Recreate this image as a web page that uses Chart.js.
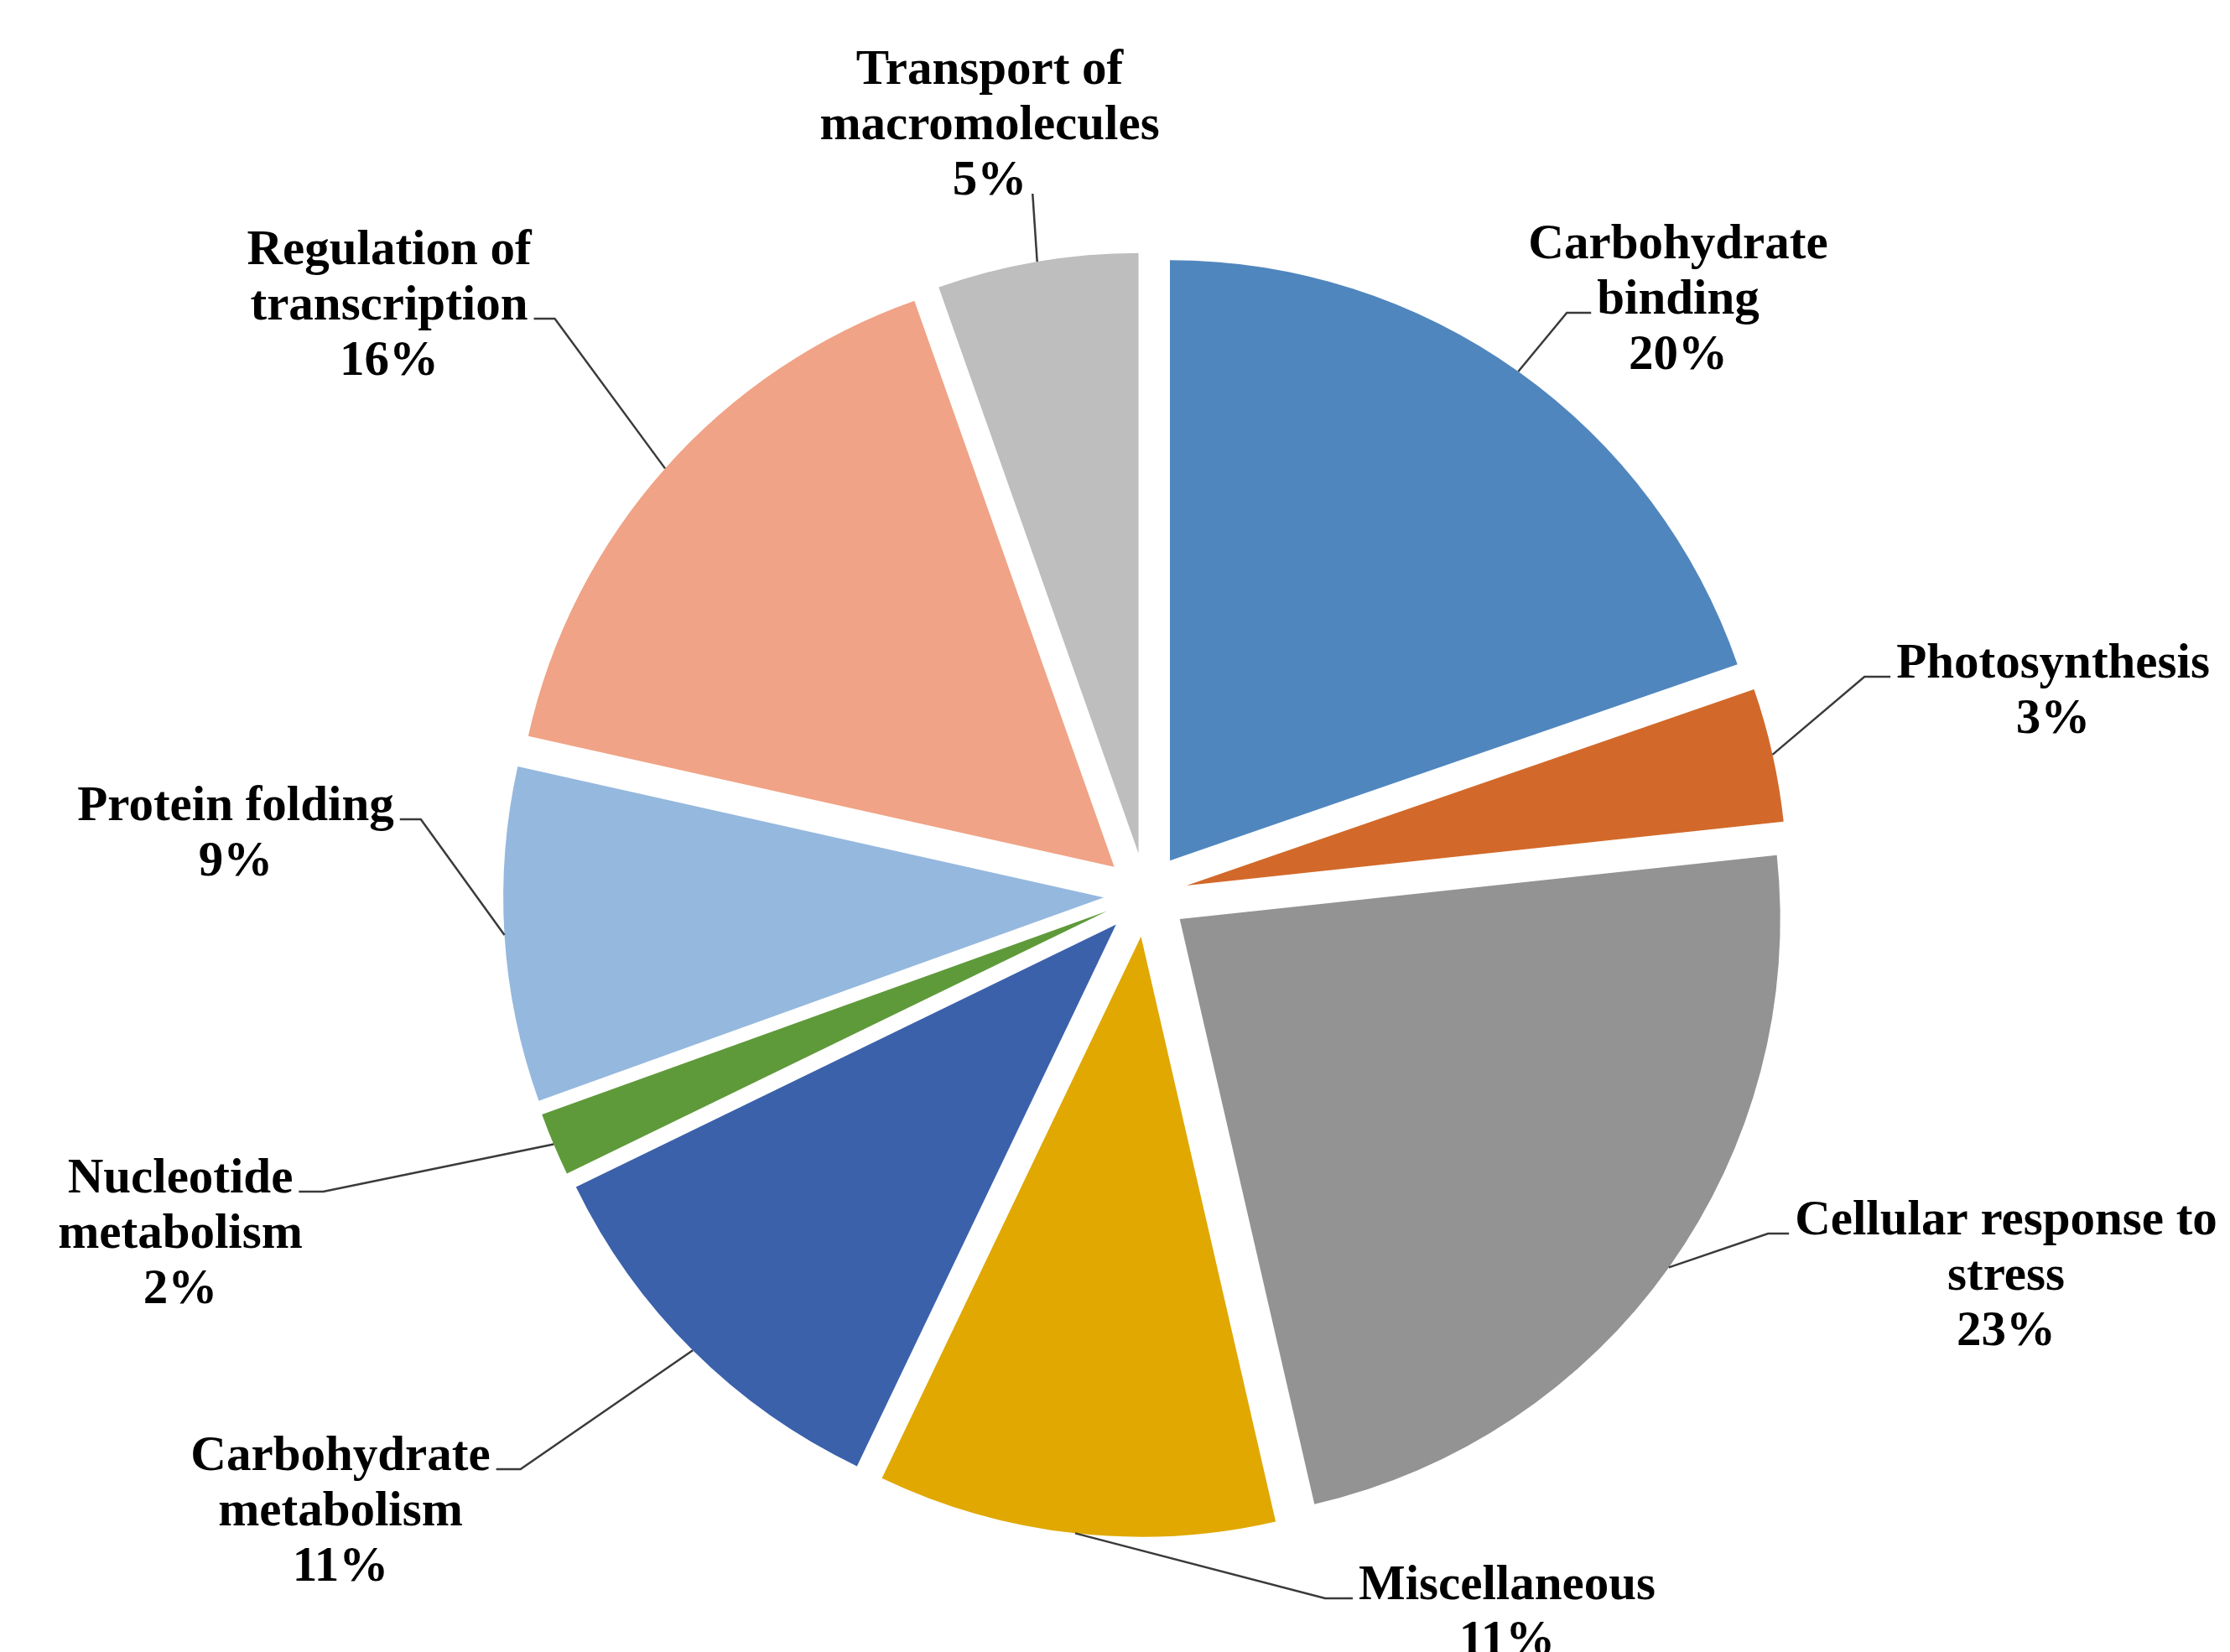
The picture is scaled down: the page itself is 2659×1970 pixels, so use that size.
<!DOCTYPE html>
<html>
<head>
<meta charset="utf-8">
<script src="https://cdn.jsdelivr.net/npm/chart.js@4.4.1/dist/chart.umd.min.js"></script>
<style>
    html, body { margin: 0; padding: 0; background: #fff; }
    canvas { display: block; }
</style>
</head>
<body>
<canvas id="pie" width="2659" height="1970"></canvas>
<script>
// Slice data, clockwise from 12 o'clock
const categories = ['Carbohydrate binding', 'Photosynthesis', 'Cellular response to stress', 'Miscellaneous',
    'Carbohydrate metabolism', 'Nucleotide metabolism', 'Protein folding', 'Regulation of transcription',
    'Transport of macromolecules'];
// slice sizes (angles), in percent
const sliceShares = [19.7, 3.6, 23.1, 10.7, 10.7, 1.7, 9.0, 16.1, 5.4];
// percentages as printed on the labels
const labelPercents = [20, 3, 23, 11, 11, 2, 9, 16, 5];
const sliceColors = ['#5086BE', '#D2692A', '#939393', '#E0A800', '#3B61AB', '#5F9A3A', '#95B8DE', '#F0A386', '#BEBEBE'];

// How the label text wraps
const labelLines = [
    ['Carbohydrate', 'binding'],
    ['Photosynthesis'],
    ['Cellular response to', 'stress'],
    ['Miscellaneous'],
    ['Carbohydrate', 'metabolism'],
    ['Nucleotide', 'metabolism'],
    ['Protein folding'],
    ['Regulation of', 'transcription'],
    ['Transport of', 'macromolecules']
];

// Label placement: text centre x, first baseline y, which side the leader joins, on which line, elbow length
const labelLayout = [
    { x: 2001, y: 308, side: 'left', line: 1, hook: 29 },
    { x: 2448, y: 808, side: 'left', line: 0, hook: 31 },
    { x: 2392, y: 1472, side: 'left', line: 0, hook: 25 },
    { x: 1797, y: 1907, side: 'left', line: 0, hook: 33 },
    { x: 406, y: 1753, side: 'right', line: 0, hook: 29 },
    { x: 215, y: 1422, side: 'right', line: 0, hook: 29 },
    { x: 281, y: 978, side: 'right', line: 0, hook: 25 },
    { x: 464, y: 315, side: 'right', line: 1, hook: 25 },
    { x: 1180, y: 100, side: 'right', line: 2, hook: 0 }
];

const pieRadius = 716;
const explode = 200;       // chart.js moves each arc by offset / 4
const lineHeight = 66;

// chart.js grows and trims small exploded arcs; undo that so every slice keeps its radius and angle
const explodeFix = {
    id: 'explodeFix',
    afterDatasetsUpdate(chart) {
        const shift = explode / 4;
        chart.getDatasetMeta(0).data.forEach(arc => {
            const fix = 1 - Math.sin(Math.min(Math.PI, arc.circumference));
            const grow = shift * fix;
            arc.outerRadius = pieRadius - grow;
            const trim = grow / (Math.PI * pieRadius) / 2;
            arc.startAngle -= trim;
            arc.endAngle += trim;
        });
    }
};

const outsideLabels = {
    id: 'outsideLabels',
    afterDraw(chart) {
        const ctx = chart.ctx;
        const arcs = chart.getDatasetMeta(0).data;
        const shift = explode / 4;
        ctx.save();
        ctx.font = 'bold 59px "Liberation Serif", "Times New Roman", serif';
        ctx.textAlign = 'center';
        ctx.textBaseline = 'alphabetic';
        ctx.fillStyle = '#000';
        ctx.strokeStyle = '#3a3a3a';
        ctx.lineWidth = 2.5;

        arcs.forEach((arc, i) => {
            const L = labelLayout[i];
            const lines = labelLines[i].concat(labelPercents[i] + '%');
            lines.forEach((t, k) => ctx.fillText(t, L.x, L.y + k * lineHeight));

            const w = ctx.measureText(lines[L.line]).width;
            const ax = L.side === 'left' ? L.x - w / 2 - 7 : L.x + w / 2 + 7;
            const ay = L.y + L.line * lineHeight - 1;
            const ex = L.side === 'left' ? ax - L.hook : ax + L.hook;

            const mid = (arc.startAngle + arc.endAngle) / 2;
            const px = arc.x + Math.cos(mid) * (shift + pieRadius);
            const py = arc.y + Math.sin(mid) * (shift + pieRadius);

            ctx.beginPath();
            ctx.moveTo(px, py);
            ctx.lineTo(ex, ay);
            ctx.lineTo(ax, ay);
            ctx.stroke();
        });
        ctx.restore();
    }
};

new Chart(document.getElementById('pie'), {
    type: 'pie',
    data: {
        labels: categories,
        datasets: [{
            data: sliceShares,
            backgroundColor: sliceColors,
            borderWidth: 0,
            offset: explode,
            hoverOffset: 0
        }]
    },
    options: {
        responsive: false,
        animation: false,
        events: [],
        radius: pieRadius,
        layout: { padding: { left: 73, top: 164, right: 0, bottom: 0 } },
        plugins: {
            legend: { display: false },
            tooltip: { enabled: false }
        }
    },
    plugins: [explodeFix, outsideLabels]
});
</script>
</body>
</html>
